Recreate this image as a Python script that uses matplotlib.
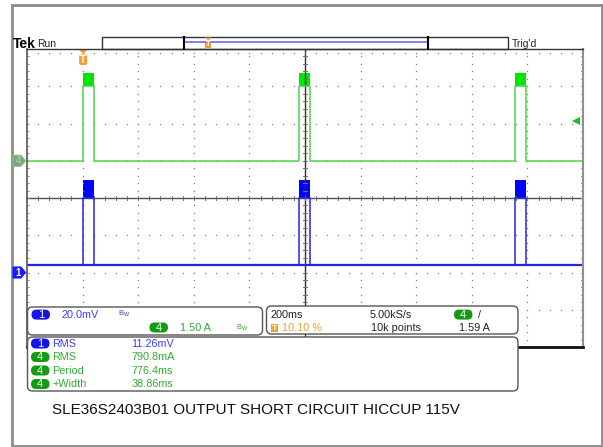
import numpy as np
import matplotlib.pyplot as plt
from matplotlib.patches import FancyBboxPatch, Rectangle, Polygon

plt.rcParams['font.family'] = ['Liberation Sans', 'DejaVu Sans']

# ---- values ----
t_left = -0.202            # s, trigger at 10.10 % of the record
t_div = 0.2                # 200 ms/div
n_xdiv, n_ydiv = 10, 8
pulse_start = [0.0, 0.7764, 1.5528]   # s
pulse_width = 0.03886                 # s (+Width)
ch1_base = 3.8             # mV
ch1_top = [40.0, 49.5]     # mV, noisy top of the pulses
ch4_base = 0.0             # A
ch4_top = [3.0, 3.55]      # A
ch1_vdiv = 20.0            # mV/div
ch4_vdiv = 1.50            # A/div
ch1_gnd = -2.0             # div
ch4_gnd = 1.0              # div
trig_level = 1.59          # A

meas_ch = ['1', '4', '4', '4']
meas_name = ['RMS', 'RMS', 'Period', '+Width']
meas_val = ['11.26mV', '790.8mA', '776.4ms', '38.86ms']

BLUE_TXT = '#3c3cff'
GREEN_TXT = '#33aa33'
BLUE_PILL = '#1414e6'
GREEN_PILL = '#139c13'
ORANGE = '#f5a030'

W, H = 603, 447
fig = plt.figure(figsize=(W / 100, H / 100), dpi=100)

# overlay in pixel coordinates for the decorations
ov = fig.add_axes([0, 0, 1, 1])
ov.set_xlim(0, W)
ov.set_ylim(H, 0)
ov.axis('off')

# graticule
gx0, gy0, gx1, gy1 = 27, 49, 583, 347
ax = fig.add_axes([gx0 / W, (H - gy1) / H, (gx1 - gx0) / W, (gy1 - gy0) / H])
t_right = t_left + n_xdiv * t_div
ax.set_xlim(t_left, t_right)
ax.set_ylim(-n_ydiv / 2, n_ydiv / 2)
ax.axis('off')
ax.set_zorder(1)
ov.set_zorder(2)
ov.patch.set_visible(False)

px_x = t_div / ((gx1 - gx0) / n_xdiv)     # seconds per pixel
px_y = 1 / ((gy1 - gy0) / n_ydiv)         # div per pixel


def to_px(t, d):
    return ov.transData.inverted().transform(ax.transData.transform((t, d)))


# dotted grid
x_major = t_left + t_div * np.arange(n_xdiv + 1)
y_major = np.arange(-n_ydiv / 2, n_ydiv / 2 + 1)
x_minor = t_left + t_div / 5 * np.arange(n_xdiv * 5 + 1)
y_minor = -n_ydiv / 2 + 0.2 * np.arange(n_ydiv * 5 + 1)
xc = (t_left + t_right) / 2
for xv in x_major[1:-1]:
    if abs(xv - xc) < 1e-9:
        continue
    ax.plot(np.full_like(y_minor, xv), y_minor, ls='none', marker='s', ms=0.9,
            mew=0, color='#808080')
for yv in y_major[1:-1]:
    if yv == 0:
        continue
    ax.plot(x_minor, np.full_like(x_minor, yv), ls='none', marker='s', ms=0.9,
            mew=0, color='#808080')

# centre cross with small ticks
ax.axhline(0, color='#505050', lw=1)
ax.axvline(xc, color='#303030', lw=1)
for xv in x_minor:
    ax.plot([xv, xv], [-2 * px_y, 2 * px_y], color='#707070', lw=0.7)
for yv in y_minor:
    ax.plot([xc - 2 * px_x, xc + 2 * px_x], [yv, yv], color='#707070', lw=0.7)
# edge ticks
ax.plot(x_minor, np.full_like(x_minor, 4 - 4 * px_y), ls='none', marker='s',
        ms=0.9, mew=0, color='#808080')
for yv in y_minor:
    ax.plot([t_left, t_left + 2 * px_x], [yv, yv], color='#909090', lw=0.6)
    ax.plot([t_right, t_right - 2 * px_x], [yv, yv], color='#909090', lw=0.6)

# graticule border
ov.plot([gx0, gx0], [gy0, gy1], color='#555555', lw=1.2)
ov.plot([gx1, gx1], [gy0, gy1], color='#909090', lw=1.5)
ov.plot([gx0, gx1], [gy1, gy1], color='#111111', lw=2)


def trace(base, top):
    t, y = [t_left], [base]
    for t0 in pulse_start:
        t += [t0, t0, t0 + pulse_width, t0 + pulse_width]
        y += [base, top, top, base]
    t.append(t_right)
    y.append(base)
    return np.array(t), np.array(y)


# channel 4 (current)
t4, y4 = trace(ch4_base, ch4_top[0])
ax.plot(t4, y4 / ch4_vdiv + ch4_gnd, color='#4cd64c', lw=1.1)
for t0 in pulse_start:
    ax.fill_between([t0, t0 + pulse_width], ch4_top[0] / ch4_vdiv + ch4_gnd,
                    ch4_top[1] / ch4_vdiv + ch4_gnd, color='#00e600', lw=0)

# channel 1 (voltage)
t1, y1 = trace(ch1_base, ch1_top[0])
ax.plot(t1, y1 / ch1_vdiv + ch1_gnd, color='#2424e6', lw=1.1)
ax.plot([t_left, t_right], [ch1_base / ch1_vdiv + ch1_gnd] * 2, color='#2424e6', lw=1.6)
for t0 in pulse_start:
    ax.fill_between([t0, t0 + pulse_width], ch1_top[0] / ch1_vdiv + ch1_gnd,
                    ch1_top[1] / ch1_vdiv + ch1_gnd, color='#0000ff', lw=0)

# trigger level arrow (right side)
ax.plot([t_right - 7 * px_x], [trig_level / ch4_vdiv + ch4_gnd], marker='<', ms=5.5,
        color='#22bb22', mew=0)

# ground markers (left side)
for gnd, fc, ec, lab, tc in [(ch4_gnd, '#8c9a8c', '#77cc77', '4', '#88dd88'),
                             (ch1_gnd, '#1a1aff', '#1a1aff', '1', 'white')]:
    yg = to_px(t_left, gnd)[1]
    ov.add_patch(Polygon([(13, yg - 5.5), (21, yg - 5.5), (25.5, yg), (21, yg + 5.5),
                          (13, yg + 5.5)], closed=True, fc=fc, ec=ec, lw=0.8,
                         zorder=3))
    ov.text(18.5, yg + 0.3, lab, color=tc, fontsize=7, fontweight='bold',
            ha='center', va='center', zorder=4)

# trigger position marker on top of graticule
xt = to_px(0.0, 0)[0]
ov.add_patch(Polygon([(xt - 4, 50), (xt + 4, 50), (xt, 54)], closed=True,
                     fc=ORANGE, ec='none'))
ov.add_patch(FancyBboxPatch((xt - 4, 54.5), 8, 10.5,
                            boxstyle='round,pad=0,rounding_size=2',
                            fc=ORANGE, ec='none'))
ov.text(xt, 60, 'T', color='white', fontsize=7, fontweight='bold',
        ha='center', va='center')

# ---- header ----
ov.plot([gx0, gx1], [gy0, gy0], color='#333333', lw=1)
ov.text(13, 43.5, 'Tek', fontsize=10, fontweight='bold', va='center', ha='left')
ov.text(37, 44, 'Run', fontsize=7.5, va='center', ha='left', color='#222222')
ov.add_patch(Rectangle((101.7, 37.3), 406, 11.7, fc='white', ec='#333333', lw=1))
ov.plot([184, 427.7], [42.3, 42.3], color='#7676f0', lw=1.3)
ov.plot([183.7, 183.7], [37.3, 49], color='black', lw=1.5)
ov.plot([427.7, 427.7], [37.3, 49], color='black', lw=1.5)
ov.add_patch(Polygon([(204.8, 37.5), (211.8, 37.5), (208.3, 40.5)], closed=True,
                     fc=ORANGE, ec='none'))
ov.add_patch(Rectangle((205.3, 40.5), 6, 7.5, fc=ORANGE, ec='none'))
ov.text(208.3, 44.3, 'T', color='white', fontsize=5.5, fontweight='bold',
        ha='center', va='center')
ov.text(512, 44, "Trig'd", fontsize=7.5, va='center', ha='left', color='#222222')

# outer frame
ov.add_patch(Rectangle((12, 4.5), 589.5, 441, fc='none', ec='#8c8c8c', lw=2))


def pill(x, y, lab, fc):
    ov.add_patch(FancyBboxPatch((x, y - 5), 18.5, 10,
                                boxstyle='round,pad=0,rounding_size=5',
                                fc=fc, ec='none', zorder=5))
    ov.text(x + 9.25, y + 0.4, lab, color='white', fontsize=8, ha='center',
            va='center', zorder=6)


def box(x0, y0, x1, y1):
    ov.add_patch(FancyBboxPatch((x0, y0), x1 - x0, y1 - y0,
                                boxstyle='round,pad=0,rounding_size=5',
                                fc='white', ec='#555555', lw=1, zorder=4))


fs = 7.8
# vertical settings box
box(27.5, 307, 262.5, 335)
pill(31.5, 314.6, '1', BLUE_PILL)
ov.text(61.5, 315, '20.0mV', color=BLUE_TXT, fontsize=fs, va='center', zorder=6)
ov.text(118, 314, r'$\mathregular{B_W}$', color=BLUE_TXT, fontsize=5.5, va='center', zorder=6)
pill(149.5, 327.5, '4', GREEN_PILL)
ov.text(180, 328, '1.50 A', color=GREEN_TXT, fontsize=fs, va='center', zorder=6)
ov.text(236.5, 327.5, r'$\mathregular{B_W}$', color=GREEN_TXT, fontsize=5.5, va='center', zorder=6)

# horizontal / trigger box
box(266.5, 306, 518, 334)
ov.text(270.5, 315, '200ms', color='#222222', fontsize=fs, va='center', zorder=6)
ov.text(370, 315, '5.00kS/s', color='#222222', fontsize=fs, va='center', zorder=6)
pill(454, 314.6, '4', GREEN_PILL)
ov.text(478.5, 314.6, '/', color='#222222', fontsize=fs, va='center', zorder=6)
ov.add_patch(Rectangle((270.5, 323.5), 7, 8.5, fc=ORANGE, ec='none', zorder=5))
ov.text(274, 328, 'T', color='white', fontsize=6, fontweight='bold',
        ha='center', va='center', zorder=6)
ov.text(282.5, 328, '10.10 %', color=ORANGE, fontsize=fs, va='center', zorder=6)
ov.text(371, 328, '10k points', color='#222222', fontsize=fs, va='center', zorder=6)
ov.text(459, 328, '1.59 A', color='#222222', fontsize=fs, va='center', zorder=6)

# measurement box
box(27.5, 337, 518, 391)
row_y = [343.5, 357, 370.5, 384]
for ch, name, val, yy in zip(meas_ch, meas_name, meas_val, row_y):
    col = BLUE_TXT if ch == '1' else GREEN_TXT
    pill(31, yy, ch, BLUE_PILL if ch == '1' else GREEN_PILL)
    ov.text(52.5, yy + 0.4, name, color=col, fontsize=fs, va='center', zorder=6)
    ov.text(131.5, yy + 0.4, val, color=col, fontsize=fs, va='center', zorder=6)

# caption
ov.text(52, 410, 'SLE36S2403B01 OUTPUT SHORT CIRCUIT HICCUP 115V', fontsize=11,
        color='#111111', va='center', ha='left')

fig.savefig('out.png', dpi=100)
